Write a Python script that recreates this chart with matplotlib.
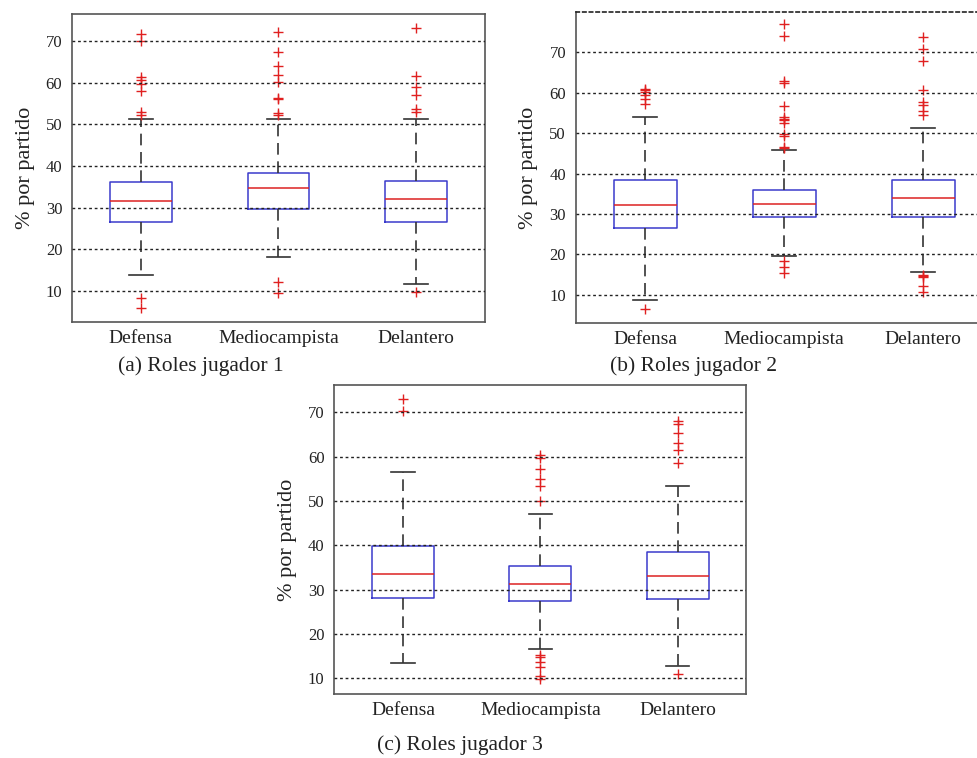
import matplotlib.pyplot as plt
import numpy as np

plt.rcParams['font.family'] = ['Liberation Serif', 'DejaVu Serif']

categories = ['Defensa', 'Mediocampista', 'Delantero']
yticks = [10, 20, 30, 40, 50, 60, 70]

# jugador 1
j1_q1 = [26.6, 29.8, 26.6]
j1_med = [31.7, 34.8, 32.1]
j1_q3 = [36.3, 38.4, 36.5]
j1_lo = [13.8, 18.2, 11.8]
j1_hi = [51.2, 51.2, 51.4]
j1_fliers = [
	[71.8, 70.0, 61.5, 60.6, 59.6, 58.0, 53.1, 52.3, 8.4, 5.9],
	[72.1, 67.3, 64.1, 61.9, 60.2, 56.3, 56.1, 52.7, 52.3, 12.2, 9.5],
	[73.2, 61.7, 59.1, 57.1, 53.8, 53.0, 9.7],
]

# jugador 2
j2_q1 = [26.4, 29.3, 29.3]
j2_med = [32.2, 32.4, 33.9]
j2_q3 = [38.3, 36.0, 38.5]
j2_lo = [8.8, 19.6, 15.5]
j2_hi = [54.0, 45.9, 51.3]
j2_fliers = [
	[60.9, 60.6, 60.3, 59.5, 58.4, 57.3, 6.5],
	[77.0, 74.0, 62.8, 62.4, 56.6, 54.1, 53.6, 53.2, 52.5, 49.8, 49.3, 46.6, 46.2, 18.3, 16.9, 15.3],
	[73.9, 70.9, 67.9, 60.7, 57.7, 56.9, 55.6, 54.4, 15.0, 14.6, 14.4, 12.1, 10.7],
]

# jugador 3
j3_q1 = [28.0, 27.4, 27.8]
j3_med = [33.4, 31.3, 33.0]
j3_q3 = [39.9, 35.3, 38.4]
j3_lo = [13.4, 16.5, 12.8]
j3_hi = [56.5, 47.0, 53.3]
j3_fliers = [
	[73.0, 70.4],
	[60.4, 59.8, 57.2, 54.9, 53.4, 50.0, 15.2, 14.8, 13.7, 12.5, 10.4, 9.7],
	[68.1, 67.3, 65.3, 63.1, 61.6, 58.6, 10.9],
]

captions = ['(a) Roles jugador 1', '(b) Roles jugador 2', '(c) Roles jugador 3']

txt = '#222222'

def make_stats(q1, med, q3, lo, hi, fl):
	stats = []
	for i in range(len(categories)):
		stats.append(dict(label=categories[i], q1=q1[i], med=med[i], q3=q3[i],
			whislo=lo[i], whishi=hi[i], fliers=fl[i]))
	return stats

def draw(ax, stats, ylim, top_grid=False):
	ax.bxp(stats, positions=[1, 2, 3], widths=0.45, capwidths=0.17,
		boxprops=dict(color='#3a3acc', linewidth=1.1),
		medianprops=dict(color='#dd2222', linewidth=1.1),
		whiskerprops=dict(color='#333333', linewidth=1.2, linestyle=(0, (7, 4))),
		capprops=dict(color='#333333', linewidth=1.2),
		flierprops=dict(marker='+', markeredgecolor='#e02020', markersize=7, markeredgewidth=1.0, linestyle='none'))
	ax.set_xlim(0.5, 3.5)
	ax.set_ylim(*ylim)
	ax.set_yticks(yticks)
	ax.yaxis.grid(True, color='#222222', linestyle=(0, (2, 2)), linewidth=1.0)
	ax.set_axisbelow(False)
	ax.tick_params(axis='both', length=0, colors=txt)
	ax.tick_params(axis='x', labelsize=14, pad=6)
	ax.tick_params(axis='y', labelsize=12, pad=7)
	ax.set_ylabel('% por partido', fontsize=16, color=txt, labelpad=8)
	for s in ax.spines.values():
		s.set_color('#555555')
		s.set_linewidth(1.2)
	if top_grid:
		ax.spines['top'].set_linestyle((0, (2, 2)))
		ax.spines['top'].set_color('#222222')

fig = plt.figure(figsize=(9.78, 7.58), dpi=100)

ax1 = fig.add_axes([0.0736, 0.5752, 0.4223, 0.4063])
ax2 = fig.add_axes([0.5887, 0.5739, 0.4264, 0.4103])
ax3 = fig.add_axes([0.3418, 0.0844, 0.4213, 0.4077])

draw(ax1, make_stats(j1_q1, j1_med, j1_q3, j1_lo, j1_hi, j1_fliers), (2.6, 76.5))
draw(ax2, make_stats(j2_q1, j2_med, j2_q3, j2_lo, j2_hi, j2_fliers), (3.0, 80.0), top_grid=True)
draw(ax3, make_stats(j3_q1, j3_med, j3_q3, j3_lo, j3_hi, j3_fliers), (6.4, 76.2))

fig.text(0.2055, 0.517, captions[0], ha='center', va='center', fontsize=15.5, color=txt)
fig.text(0.7086, 0.517, captions[1], ha='center', va='center', fontsize=15.5, color=txt)
fig.text(0.470, 0.017, captions[2], ha='center', va='center', fontsize=15.5, color=txt)

fig.savefig('out.png', dpi=100)
